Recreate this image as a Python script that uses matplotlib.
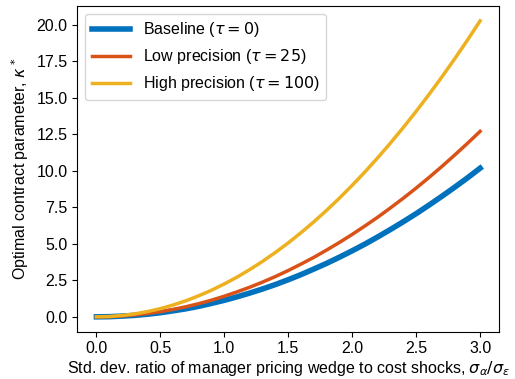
import matplotlib
matplotlib.use("Agg")
import matplotlib.pyplot as plt

plt.rcParams["font.family"] = ["Liberation Sans", "DejaVu Sans"]
plt.rcParams["mathtext.fontset"] = "dejavusans"
plt.rcParams["font.size"] = 11.5

x = [0.0, 0.1, 0.2, 0.3, 0.4, 0.5, 0.6, 0.7, 0.8, 0.9, 1.0, 1.1, 1.2, 1.3, 1.4, 1.5,
     1.6, 1.7, 1.8, 1.9, 2.0, 2.1, 2.2, 2.3, 2.4, 2.5, 2.6, 2.7, 2.8, 2.9, 3.0]
baseline = [0.0, 0.01, 0.05, 0.10, 0.18, 0.28, 0.41, 0.55, 0.72, 0.92, 1.13, 1.37, 1.63,
            1.91, 2.21, 2.54, 2.89, 3.27, 3.66, 4.08, 4.52, 4.98, 5.47, 5.98, 6.51, 7.06,
            7.64, 8.24, 8.86, 9.50, 10.17]
low_prec = [0.0, 0.01, 0.06, 0.13, 0.23, 0.35, 0.51, 0.69, 0.90, 1.14, 1.41, 1.71, 2.03,
            2.38, 2.76, 3.17, 3.61, 4.07, 4.57, 5.09, 5.64, 6.22, 6.82, 7.46, 8.12, 8.81,
            9.53, 10.28, 11.06, 11.86, 12.69]
high_prec = [0.0, 0.02, 0.09, 0.20, 0.36, 0.56, 0.81, 1.10, 1.44, 1.82, 2.25, 2.72, 3.24,
             3.80, 4.41, 5.06, 5.76, 6.50, 7.29, 8.12, 9.00, 9.92, 10.89, 11.90, 12.96,
             14.06, 15.21, 16.40, 17.64, 18.92, 20.25]

labels = [r"Baseline ($\tau = 0$)", r"Low precision ($\tau = 25$)", r"High precision ($\tau = 100$)"]
colors = ["#0072BD", "#D95319", "#EDB120"]

fig = plt.figure(figsize=(5.15, 3.79), dpi=100)
ax = fig.add_axes([0.150, 0.125, 0.8195, 0.859])
ax.plot(x, baseline, color=colors[0], lw=4, label=labels[0])
ax.plot(x, low_prec, color=colors[1], lw=2.5, label=labels[1])
ax.plot(x, high_prec, color=colors[2], lw=2.5, label=labels[2])
ax.set_xticks([0.0, 0.5, 1.0, 1.5, 2.0, 2.5, 3.0])
ax.set_yticks([0.0, 2.5, 5.0, 7.5, 10.0, 12.5, 15.0, 17.5, 20.0])
ax.set_xlabel(r"Std. dev. ratio of manager pricing wedge to cost shocks, $\sigma_\alpha/\sigma_\varepsilon$",
              labelpad=2)
ax.set_ylabel(r"Optimal contract parameter, $\kappa^*$")
ax.legend(loc="upper left", handlelength=2.4)
fig.savefig("out.png", dpi=100)
